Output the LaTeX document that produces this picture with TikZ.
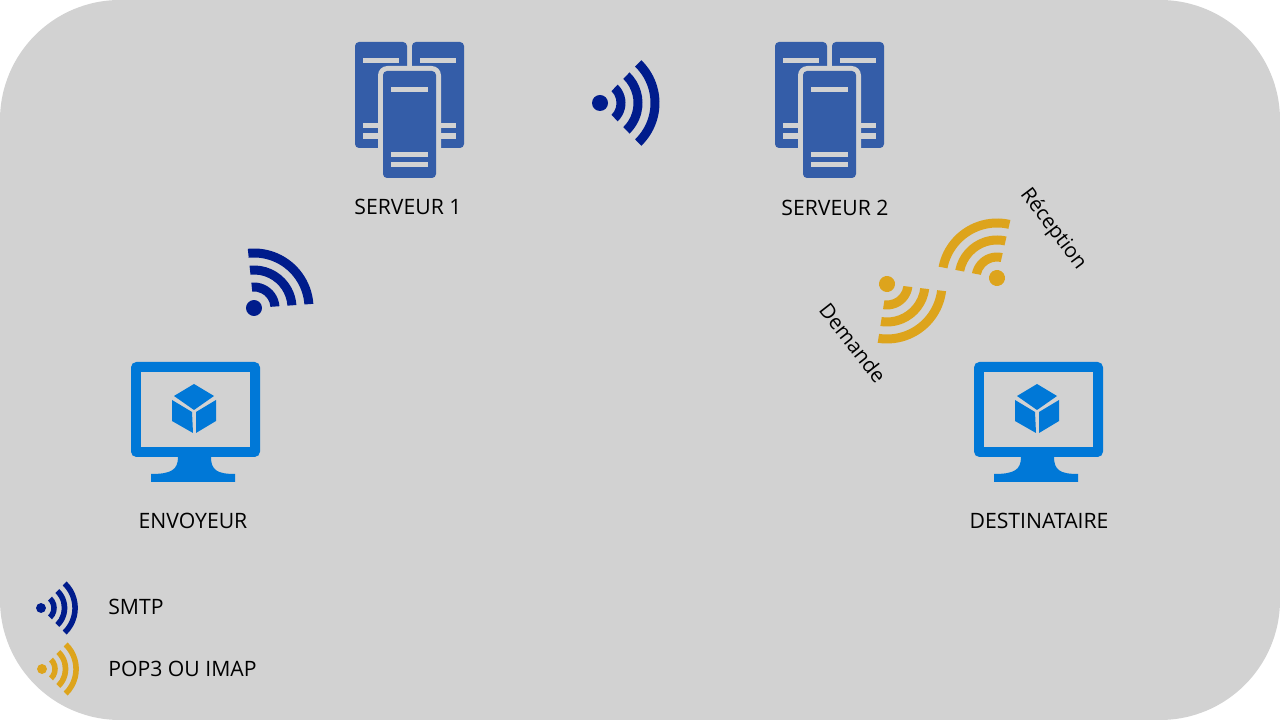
\documentclass[tikz,border=0pt]{standalone}
\usepackage{fontspec}
\setmainfont{Open Sans}
\usepackage{xcolor}
\definecolor{panelgray}{RGB}{210,210,210}
\definecolor{serverblue}{RGB}{52,93,168}
\definecolor{screenblue}{RGB}{0,120,215}
\definecolor{smtpblue}{RGB}{0,28,140}
\definecolor{popgold}{RGB}{221,164,28}

\tikzset{
  label/.style={font=\fontsize{15.9}{18}\selectfont, text=black, inner sep=0pt},
  sidelabel/.style={font=\fontsize{15.4}{18}\selectfont, text=black, inner sep=0pt},
  % signal, dot at the origin, opening towards the right
  wifi/.pic={
    \fill (0,0) circle (8);
    \foreach \r in {21,38,55}
      \fill (-46:\r-4.5) arc[start angle=-46,end angle=46,radius=\r-4.5]
        -- (46:\r+4.5) arc[start angle=46,end angle=-46,radius=\r+4.5] -- cycle;
  },
  % origin at the top left corner of the left cabinet
  server/.pic={
    \fill[serverblue, rounded corners=3] (0,-106) -- (0,0) -- (52,0) -- (52,-106) -- cycle;
    \fill[serverblue, rounded corners=3] (57,-106) -- (57,0) -- (109,0) -- (109,-106) -- cycle;
    \fill[panelgray, rounded corners=7] (23,-136) -- (23,-24) -- (86,-24) -- (86,-136) -- cycle;
    \fill[serverblue, rounded corners=3] (28,-136) -- (28,-29) -- (81,-29) -- (81,-136) -- cycle;
    \fill[panelgray] (8,-16) rectangle (44,-21);
    \fill[panelgray] (65,-16) rectangle (101,-21);
    \fill[panelgray] (8,-81) rectangle (23,-86);
    \fill[panelgray] (8,-91) rectangle (23,-97);
    \fill[panelgray] (86,-81) rectangle (101,-86);
    \fill[panelgray] (86,-91) rectangle (101,-97);
    \fill[panelgray] (36,-45) rectangle (73,-50);
    \fill[panelgray] (36,-110) rectangle (73,-115);
    \fill[panelgray] (36,-120) rectangle (73,-125);
  },
  % origin at the top left corner of the screen
  monitor/.pic={
    \fill[screenblue, rounded corners=4] (0,-95) -- (0,0) -- (129,0) -- (129,-95) -- cycle;
    \fill[panelgray] (10,-85) rectangle (119,-10);
    \fill[screenblue] (47,-95) .. controls (47,-108) and (40,-112) .. (20,-112)
      -- (20,-120) -- (104,-120) -- (104,-112)
      .. controls (86,-112) and (80,-108) .. (80,-95) -- cycle;
    \fill[screenblue] (63,-22) -- (83,-34) -- (63,-48) -- (43,-34) -- cycle;
    \fill[screenblue] (41,-38) -- (61,-50) -- (62,-71) -- (41,-59) -- cycle;
    \fill[screenblue] (85,-38) -- (65,-50) -- (65,-71) -- (85,-59) -- cycle;
  }
}

\begin{document}
\begin{tikzpicture}[x=0.75pt,y=0.75pt]
\useasboundingbox (0,0) rectangle (1280,720);
\fill[panelgray, rounded corners=90pt] (0,0) rectangle (1280,720);

    \pic (srvA) at (355,678) {server};
    \pic (srvB) at (775,678) {server};
    \pic (pcA) at (131,358) {monitor};
    \pic (pcB) at (974,358) {monitor};

    % signals
    \pic[smtpblue] (sigA) at (600,617) {wifi};
    \pic[smtpblue, rotate=50] (sigB) at (254,412) {wifi};
    \pic[popgold, rotate=123] (sigC) at (997,442) {wifi};
    \pic[popgold, rotate=-53] (sigD) at (887,436) {wifi};
    \pic[smtpblue, scale=0.62] (keyA) at (41,112) {wifi};
    \pic[popgold, scale=0.62] (keyB) at (42,51) {wifi};

    \node[label] (srvAtxt) at (408,513) {SERVEUR 1};
    \node[label] (srvBtxt) at (835,512) {SERVEUR 2};
    \node[label] (pcAtxt) at (193,199) {ENVOYEUR};
    \node[label] (pcBtxt) at (1039,199) {DESTINATAIRE};
    \node[sidelabel, rotate=-53] (recv) at (1053,491) {Réception};
    \node[sidelabel, rotate=-52] (ask) at (853,377) {Demande};
    \node[label, anchor=west] (keyAtxt) at (108,113) {SMTP};
    \node[label, anchor=west] (keyBtxt) at (108,51) {POP3 OU IMAP};

\end{tikzpicture}
\end{document}
